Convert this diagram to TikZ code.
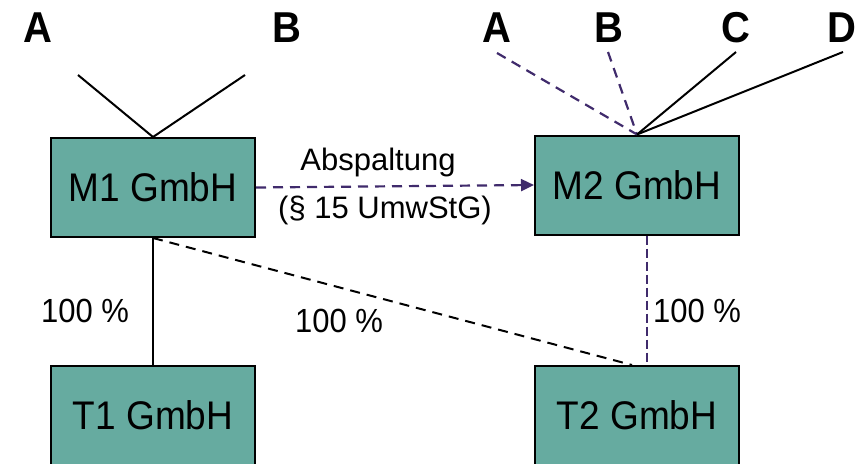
\documentclass[tikz,border=0pt]{standalone}
\usepackage{fontspec}
\setmainfont{Liberation Sans}
\usetikzlibrary{arrows.meta}
\definecolor{boxfill}{RGB}{102,171,160}
\definecolor{spinoff}{RGB}{64,43,108}
\newcommand{\tallish}[1]{\scalebox{1}[1.08]{#1}}
\tikzset{
  company/.style={draw=black, line width=2pt, fill=boxfill,
    minimum width=204pt, minimum height=99pt, inner sep=0pt,
    font=\fontsize{37}{40}\selectfont},
  holder/.style={font=\bfseries\fontsize{40}{44}\selectfont, inner sep=0pt, anchor=base},
  share/.style={font=\fontsize{31}{34}\selectfont, inner sep=0pt, anchor=base},
  own/.style={line width=2pt, black},
  ownplan/.style={own, dash pattern=on 10pt off 7pt},
  newown/.style={line width=2.2pt, spinoff, dash pattern=on 10pt off 7pt},
  newthin/.style={line width=1.1pt, spinoff, dash pattern=on 9pt off 4pt},
}
\begin{document}
\begin{tikzpicture}[x=1pt, y=-1pt]
  \useasboundingbox (0,0) rectangle (858,463);

  % companies
  \node[company] (m1) at (153,187.5) {\tallish{M1 GmbH}};
  \node[company] (m2) at (637,185) {\tallish{M2 GmbH}};
  \node[company] (t1) at (153,415.5) {\tallish{T1 GmbH}};
  \node[company] (t2) at (637,415.5) {\tallish{T2 GmbH}};

  % shareholders of M1
  \node[holder] (a1) at (38,42) {\tallish{A}};
  \node[holder] (b1) at (287,42) {\tallish{B}};
  \coordinate (a1end) at (78,75);
  \coordinate (b1end) at (245,75);
  \draw[own] (a1end) -- (m1.north) -- (b1end);

  % shareholders of M2
  \node[holder] (a2) at (497,42) {\tallish{A}};
  \node[holder] (b2) at (609,42) {\tallish{B}};
  \node[holder] (c2) at (736,42) {\tallish{C}};
  \node[holder] (d2) at (842,42) {\tallish{D}};
  \coordinate (a2end) at (497,53);
  \coordinate (b2end) at (608,52);
  \coordinate (c2end) at (736,52);
  \coordinate (d2end) at (843,52);
  \draw[newown] (a2end) -- (m2.north);
  \draw[newown] (b2end) -- (m2.north);
  \draw[own] (c2end) -- (m2.north);
  \draw[own] (d2end) -- (m2.north);

  % spin-off
  \draw[newown, -{Triangle[length=13pt, width=12pt]}] (m1.east) -- (m2.west);
  \node[share] (absp) at (378,170) {Abspaltung};
  \node[share] (para) at (385,218) {(§ 15 UmwStG)};

  % subsidiaries
  \draw[own] (m1.south) -- (t1.north);
  \draw[ownplan] (m1.south) -- ([xshift=-5pt]t2.north);
  \draw[newthin] ([xshift=10pt]m2.south) -- ([xshift=10pt]t2.north);
  \node[share] (p1) at (85,322) {\tallish{100 \%}};
  \node[share] (p2) at (339,332) {\tallish{100 \%}};
  \node[share] (p3) at (697,322) {\tallish{100 \%}};
\end{tikzpicture}
\end{document}
